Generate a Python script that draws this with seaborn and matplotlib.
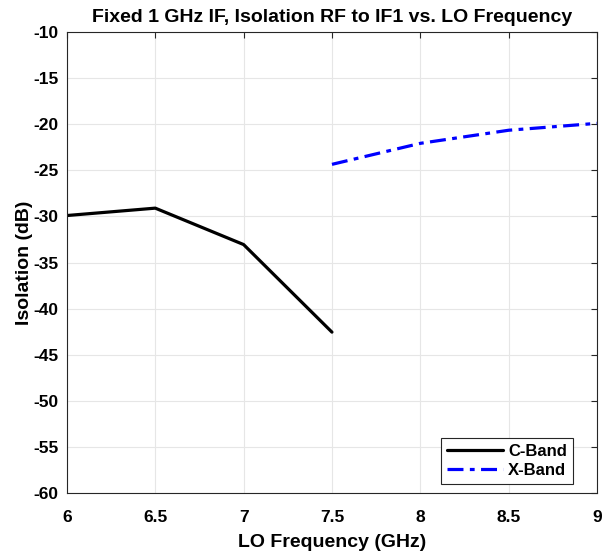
import numpy as np
import pandas as pd
import matplotlib
matplotlib.use("Agg")
import matplotlib.pyplot as plt
import seaborn as sns

# data
c_freq = [6.0, 6.5, 7.0, 7.5]
c_iso = [-29.9, -29.1, -33.05, -42.55]
x_freq = [7.5, 8.0, 8.5, 9.0]
x_iso = [-24.35, -22.07, -20.65, -19.9]

x_ticks = [6, 6.5, 7, 7.5, 8, 8.5, 9]
x_ticklabels = ["6", "6.5", "7", "7.5", "8", "8.5", "9"]
y_ticks = list(range(-60, -5, 5))

df_c = pd.DataFrame({"freq": c_freq, "iso": c_iso})
df_x = pd.DataFrame({"freq": x_freq, "iso": x_iso})

sns.set_style("whitegrid")
plt.rcParams['font.family'] = ['Liberation Sans', 'DejaVu Sans']
plt.rcParams['font.weight'] = 'bold'
plt.rcParams['axes.unicode_minus'] = False
plt.rcParams['text.color'] = 'black'
plt.rcParams['axes.labelcolor'] = 'black'
plt.rcParams['xtick.color'] = 'black'
plt.rcParams['ytick.color'] = 'black'

fig = plt.figure(figsize=(6.03, 5.53), dpi=100)
ax = fig.add_axes([0.111, 0.1085, 0.879, 0.8335])

sns.lineplot(data=df_c, x="freq", y="iso", ax=ax, color="black",
             linewidth=2.3, label="C-Band")
sns.lineplot(data=df_x, x="freq", y="iso", ax=ax, color="blue",
             linewidth=2.3, label="X-Band")
ax.lines[1].set_dashes([5, 2, 1.5, 2])

ax.set_xlim(6, 9)
ax.set_ylim(-60, -10)
ax.set_xticks(x_ticks)
ax.set_xticklabels(x_ticklabels)
ax.set_yticks(y_ticks)

ax.grid(True, color="#e6e6e6", linewidth=0.8)
for s in ax.spines.values():
    s.set_visible(True)
    s.set_color("#262626")
    s.set_linewidth(0.8)
ax.tick_params(direction="in", length=4, width=0.8, color="#262626",
               labelcolor="black", labelsize=12.5, top=True, right=True)
ax.tick_params(axis="x", pad=12)
ax.tick_params(axis="y", pad=6)
for lbl in ax.get_xticklabels() + ax.get_yticklabels():
    lbl.set_fontweight("bold")

ax.set_xlabel("LO Frequency (GHz)", fontsize=14, fontweight="bold", labelpad=7)
ax.set_ylabel("Isolation (dB)", fontsize=14, fontweight="bold", labelpad=0)
ax.set_title("Fixed 1 GHz IF, Isolation RF to IF1 vs. LO Frequency",
             fontsize=14, fontweight="bold", pad=7)

leg = ax.legend(loc="lower right", bbox_to_anchor=(0.9547, 0.0195),
                fontsize=12, fancybox=False,
                edgecolor="#262626", framealpha=1, borderaxespad=0,
                handlelength=3.4, handletextpad=0.3, labelspacing=0.25,
                borderpad=0.35)
leg.get_frame().set_linewidth(0.8)
for t in leg.get_texts():
    t.set_fontweight("bold")

fig.savefig("out.png", dpi=100)
